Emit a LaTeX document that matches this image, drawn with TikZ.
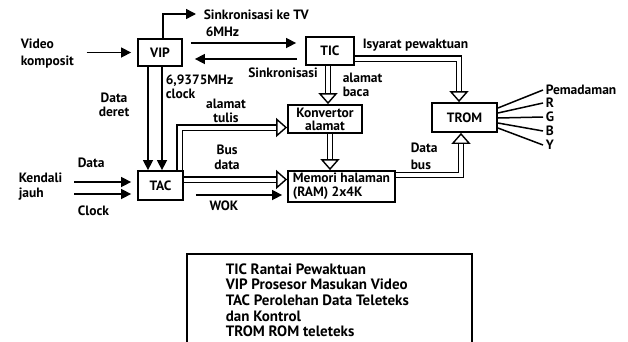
\documentclass[tikz,border=0pt]{standalone}
\usepackage{fontspec}
\setmainfont{PT Sans}
\usepackage{tikz}
\usetikzlibrary{arrows.meta,positioning}

\begin{document}
\begin{tikzpicture}[x=1pt, y=-1pt, line width=1.5pt,
  every node/.style={font=\bfseries\fontsize{13.5}{14}\selectfont, inner sep=0pt},
  blok/.style={draw, line width=1.8pt, inner sep=2pt},
  panah/.style={-{Triangle[length=10pt,width=10pt]}},
  bus/.style={double, double distance=4pt, line width=1.4pt,
    -{Triangle[open,length=11pt,width=19pt,line width=1.4pt]}}]
  \useasboundingbox (0,0) rectangle (628,341);
  % blocks
  \node[blok, minimum width=44, minimum height=27] (vip) at (160,52.5) {VIP};
  \node[blok, minimum width=48, minimum height=28] (tic) at (330,51) {TIC};
  \node[blok, minimum width=45, minimum height=29] (tac) at (160.5,185.5) {TAC};
  \node[blok, minimum width=74, minimum height=28, align=center,
    font=\bfseries\fontsize{13.5}{13}\selectfont] (konv) at (325,119) {Konvertor\\alamat};
  \node[blok, minimum width=107, minimum height=31, align=left, inner sep=1pt,
    font=\bfseries\fontsize{13.5}{14}\selectfont] (mem) at (341.5,186.5) {Memori halaman\\(RAM) 2x4K};
  \node[blok, minimum width=65, minimum height=29] (trom) at (464.5,117.5) {TROM};
  % labels
  \node[anchor=west, align=left, font=\bfseries\fontsize{13.5}{17}\selectfont] (video) at (20,53.5) {Video\\komposit};
  \node[anchor=west, align=left, font=\bfseries\fontsize{13.5}{15}\selectfont] (kendali) at (18,187) {Kendali\\jauh};
  \node[anchor=west] (data) at (77,163) {Data};
  \node[anchor=west] (clock) at (77,211) {Clock};
  \node[anchor=west] (tvlbl) at (203,15) {Sinkronisasi ke TV};
  \node[anchor=west] (mhz) at (205,32) {6MHz};
  \node (sinkr) at (283,73) {Sinkronisasi};
  \node[anchor=west, align=left] (clk) at (165,86.5) {6,9375MHz\\clock};
  \node[align=center, font=\bfseries\fontsize{13.5}{14.5}\selectfont] (deret) at (114,105) {Data\\deret};
  \node[align=center, font=\bfseries\fontsize{13.5}{14}\selectfont] (tulis) at (226,111) {alamat\\tulis};
  \node[align=center, font=\bfseries\fontsize{13.5}{15.5}\selectfont] (busdata) at (227,157.5) {Bus\\data};
  \node (wok) at (224,206) {WOK};
  \node[anchor=west, align=left, font=\bfseries\fontsize{13.5}{14}\selectfont] (baca) at (342,85) {alamat\\baca};
  \node[anchor=west] (isyarat) at (362,45) {Isyarat pewaktuan};
  \node[anchor=west, align=left, font=\bfseries\fontsize{13.5}{17}\selectfont] (databus) at (410,156.5) {Data\\bus};
  % inputs
  \coordinate (tv) at (196,14);
  \draw[panah] ([xshift=3]vip.north) |- (tv);
  \draw[panah, shorten <=12pt] (video.east |- vip.west) -- ([xshift=-6]vip.west);
  \draw[panah, shorten <=11pt, shorten >=6pt] (kendali.east |- 0,182) -- (tac.west |- 0,182);
  \draw[panah, shorten <=11pt, shorten >=6pt] (kendali.east |- 0,194) -- (tac.west |- 0,194);
  % VIP <-> TIC
  \draw[panah, shorten <=8pt, shorten >=9pt] (vip.east |- 0,43) -- (tic.west |- 0,43);
  \draw[panah, shorten <=8pt, shorten >=12pt] (tic.west |- 0,59) -- (vip.east |- 0,59);
  \foreach \xx in {148,162}
    \draw[panah] (vip.south -| \xx,0) -- (tac.north -| \xx,0);
  % buses
  \draw[bus] (tac.north -| 179.5,0) |- (konv.west |- 0,127.5);
  \draw[bus] (tac.east |- 0,179.5) -- (mem.west |- 0,179.5);
  \draw[panah, shorten <=12pt, shorten >=5pt] (tac.east |- 0,195) -- (mem.west |- 0,195);
  \draw[bus] (tic.south -| 328,0) -- (konv.north -| 328,0);
  \draw[bus] (konv.south -| 330,0) -- (mem.north -| 330,0);
  \draw[bus] (tic.east |- 0,58.5) -| (trom.north -| 459,0);
  \draw[bus] (mem.east |- 0,175) -| (trom.south -| 461,0);
  % TROM outputs
  \foreach \nm/\txt/\ya/\yb in {pem/Pemadaman/108/90, r/R/113/103, g/G/118/117, b/B/123/131, y/Y/128/145} {
    \node[anchor=west] (\nm) at (545,\yb) {\txt};
    \draw (trom.east |- 0,\ya) -- ([xshift=-2]\nm.west);
  }
  % legend
  \draw[line width=1.8pt] (187,360) |- (472,254) -- (472,360);
  \foreach \i/\t in {0/TIC Rantai Pewaktuan, 1/VIP Prosesor Masukan Video,
      2/TAC Perolehan Data Teleteks, 3/dan Kontrol, 4/TROM ROM teleteks}
    \node[anchor=base west, font=\bfseries\fontsize{15}{15.7}\selectfont] (leg\i) at (225,{274+\i*15.7}) {\t};
\end{tikzpicture}
\end{document}
